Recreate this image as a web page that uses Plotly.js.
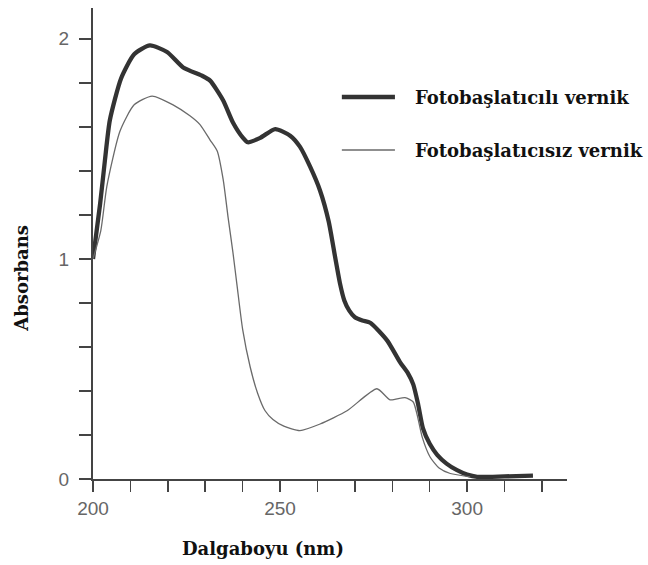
<!DOCTYPE html>
<html>
<head>
<meta charset="utf-8">
<script src="https://cdn.plot.ly/plotly-3.0.1.min.js"></script>
<style>html,body{margin:0;padding:0;background:#fff;}#chart{width:648px;height:565px;}</style>
</head>
<body>
<div id="chart"></div>
<script>
// Fotobaşlatıcılı vernik (thick line)
const withX = [200, 201.9, 203.2, 204.5, 207.5, 211, 215.2, 219.8, 224.1, 229.4, 231.3, 234.8, 237.4, 240.1, 241.4, 244.7, 248.7, 252.7, 255.3, 258.0, 260.7, 263.0, 264.7, 266.0, 267.2, 268.5, 270.0, 272.0, 274.1, 278.6, 282.1, 284.2, 285.6, 286.9, 288.2, 290.0, 292.0, 294.5, 297.3, 300, 302.7, 310, 317.6];
const withY = [1.0, 1.25, 1.45, 1.63, 1.82, 1.93, 1.97, 1.94, 1.87, 1.83, 1.81, 1.72, 1.62, 1.55, 1.53, 1.55, 1.59, 1.56, 1.51, 1.42, 1.31, 1.17, 1.01, 0.89, 0.81, 0.765, 0.735, 0.72, 0.71, 0.63, 0.53, 0.48, 0.43, 0.34, 0.23, 0.16, 0.11, 0.07, 0.04, 0.02, 0.01, 0.012, 0.015];
// Fotobaşlatıcısız vernik (thin line)
const withoutX = [200, 202.1, 203.7, 207.2, 211, 215.8, 221.4, 225.9, 228.6, 231.3, 233.2, 234.8, 236.1, 237.4, 238.5, 240.0, 242.0, 244.0, 246.0, 248.1, 251.0, 255.3, 260.7, 267.9, 275.9, 279.4, 283.4, 285.6, 286.8, 288.0, 290.1, 292.5, 295.5, 300.8];
const withoutY = [1.0, 1.13, 1.33, 1.58, 1.70, 1.74, 1.70, 1.65, 1.61, 1.54, 1.49, 1.36, 1.19, 1.03, 0.88, 0.68, 0.51, 0.39, 0.31, 0.27, 0.24, 0.22, 0.25, 0.31, 0.41, 0.36, 0.37, 0.35, 0.28, 0.19, 0.10, 0.05, 0.025, 0.01];

const seriesNames = ["Fotobaşlatıcılı vernik", "Fotobaşlatıcısız vernik"];
const xTickVals = [200, 210, 220, 230, 240, 250, 260, 270, 280, 290, 300, 310, 320];
const xTickText = ["200", "", "", "", "", "250", "", "", "", "", "300", "", ""];
const yTickVals = [0, 0.2, 0.4, 0.6, 0.8, 1, 1.2, 1.4, 1.6, 1.8, 2];
const yTickText = ["0", "", "", "", "", "1", "", "", "", "", "2"];
const xTitle = "Dalgaboyu (nm)";
const yTitle = "Absorbans";

const thickColor = "#333333";
const thinColor = "#6a6a6a";
const titleFont = {family: "DejaVu Serif", size: 18, color: "#111"};
const tickFont = {family: "Liberation Sans", size: 19, color: "#666"};

const traces = [
  {x: withX, y: withY, name: seriesNames[0], mode: "lines",
   line: {color: thickColor, width: 4.3, shape: "spline", smoothing: 0.6}, showlegend: false},
  {x: withoutX, y: withoutY, name: seriesNames[1], mode: "lines",
   line: {color: thinColor, width: 1.3, shape: "spline", smoothing: 0.6}, showlegend: false}
];

const layout = {
  width: 648, height: 565,
  margin: {l: 93, r: 81, t: 8, b: 86},
  paper_bgcolor: "#fff", plot_bgcolor: "#fff",
  showlegend: false,
  xaxis: {range: [200, 326.7], tickmode: "array", tickvals: xTickVals, ticktext: xTickText,
          ticks: "outside", ticklen: 11, tickwidth: 1.5, tickcolor: "#444",
          showline: true, linecolor: "#444", linewidth: 2, showgrid: false, zeroline: false,
          tickfont: tickFont},
  yaxis: {range: [0, 2.14], tickmode: "array", tickvals: yTickVals, ticktext: yTickText,
          ticks: "outside", ticklen: 12, tickwidth: 1.5, tickcolor: "#444",
          showline: true, linecolor: "#444", linewidth: 2, showgrid: false, zeroline: false,
          ticklabelstandoff: 6, tickfont: tickFont},
  shapes: [
    {type: "line", xref: "paper", yref: "paper", x0: 0.525, x1: 0.637, y0: 0.811, y1: 0.811,
     line: {color: thickColor, width: 4.3}},
    {type: "line", xref: "paper", yref: "paper", x0: 0.525, x1: 0.637, y0: 0.6985, y1: 0.6985,
     line: {color: thinColor, width: 1.3}}
  ],
  annotations: [
    {text: "<b>" + seriesNames[0] + "</b>", xref: "paper", yref: "paper", x: 0.675, y: 0.811,
     xanchor: "left", yanchor: "middle", showarrow: false, font: titleFont},
    {text: "<b>" + seriesNames[1] + "</b>", xref: "paper", yref: "paper", x: 0.675, y: 0.6985,
     xanchor: "left", yanchor: "middle", showarrow: false, font: titleFont},
    {text: "<b>" + xTitle + "</b>", xref: "paper", yref: "paper", x: 0.359, y: -0.1465,
     xanchor: "center", yanchor: "middle", showarrow: false, font: titleFont},
    {text: "<b>" + yTitle + "</b>", xref: "paper", yref: "paper", x: -0.15, y: 0.427,
     xanchor: "center", yanchor: "middle", showarrow: false, textangle: -90, font: titleFont}
  ]
};

Plotly.newPlot("chart", traces, layout, {displayModeBar: false, staticPlot: true});
</script>
</body>
</html>
